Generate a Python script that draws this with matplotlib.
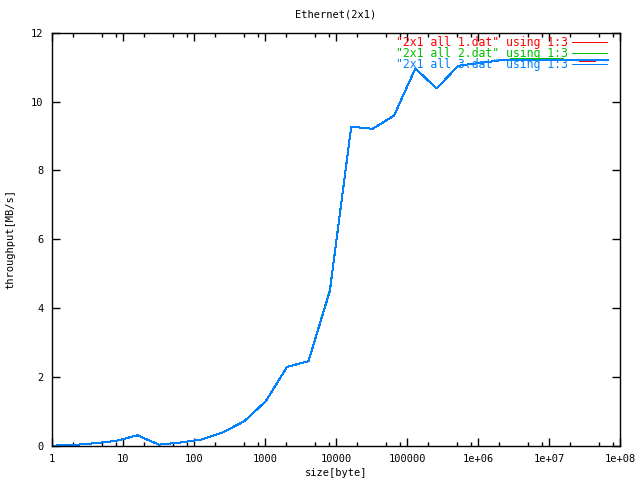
import numpy as np
import matplotlib
matplotlib.use('Agg')
import matplotlib.pyplot as plt
from matplotlib.ticker import LogLocator, FixedLocator, NullFormatter

# message sizes (bytes), powers of two
sizes = [2 ** k for k in range(27)]

# throughput [MB/s]
run1 = [0.01, 0.03, 0.08, 0.15, 0.31, 0.04, 0.10, 0.19, 0.40, 0.72,
        1.30, 2.30, 2.46, 4.50, 9.27, 9.21, 9.59, 10.96, 10.38, 11.04,
        11.12, 11.20, 11.21, 11.21, 11.22, 11.18, 11.21]
run2 = [0.01, 0.03, 0.08, 0.15, 0.31, 0.04, 0.10, 0.19, 0.40, 0.72,
        1.30, 2.30, 2.46, 4.52, 9.27, 9.21, 9.59, 10.96, 10.38, 11.04,
        11.12, 11.20, 11.25, 11.25, 11.22, 11.21, 11.21]
run3 = [0.01, 0.03, 0.08, 0.15, 0.31, 0.04, 0.10, 0.19, 0.40, 0.72,
        1.30, 2.30, 2.46, 4.50, 9.27, 9.21, 9.59, 10.96, 10.38, 11.04,
        11.12, 11.20, 11.21, 11.21, 11.22, 11.21, 11.21]

labels = ['"2x1 all 1.dat" using 1:3',
          '"2x1 all 2.dat" using 1:3',
          '"2x1 all 3.dat" using 1:3']
colors = ['#ff0000', '#00c000', '#0080ff']

font = 'DejaVu Sans Mono'
fs = 7.5

fig = plt.figure(figsize=(6.4, 4.8), dpi=100)
ax = fig.add_axes([52 / 640, 34 / 480, 568 / 640, 413.3 / 480])

for y, lab, c in zip([run1, run2, run3], labels, colors):
    ax.plot(sizes, y, color=c, lw=0.72, label=lab, antialiased=False)

ax.set_xscale('log')
ax.set_xlim(1, 1e8)
ax.set_ylim(0, 12)
ax.set_yticks(range(0, 13, 2))

majors = [10.0 ** k for k in range(9)]
ax.xaxis.set_major_locator(FixedLocator(majors))
ax.set_xticklabels(['1', '10', '100', '1000', '10000', '100000',
                    '1e+06', '1e+07', '1e+08'])
ax.xaxis.set_minor_locator(LogLocator(base=10, subs=(2.0, 5.0, 8.0)))
ax.xaxis.set_minor_formatter(NullFormatter())

ax.tick_params(which='both', direction='in', top=True, right=True,
               width=1, labelsize=fs, pad=6)
ax.tick_params(which='major', length=6)
ax.tick_params(which='minor', length=3)
for lbl in ax.get_xticklabels() + ax.get_yticklabels():
    lbl.set_family(font)
for s in ax.spines.values():
    s.set_linewidth(1)

ax.set_title('Ethernet(2x1)', fontsize=fs, family=font, pad=11)
ax.set_xlabel('size[byte]', fontsize=fs, family=font, labelpad=3)
ax.set_ylabel('throughput[MB/s]', fontsize=fs, family=font, labelpad=11)

leg = ax.legend(loc='upper right', frameon=False, markerfirst=False,
                prop={'family': font, 'size': 8.3}, labelcolor='linecolor',
                handlelength=3.0, handletextpad=0.4, labelspacing=-0.15,
                borderaxespad=0, borderpad=0,
                bbox_to_anchor=(1 - 13 / 568, 1 - 3 / 413))
for h in leg.get_lines():
    h.set_antialiased(False)

fig.savefig('out.png', dpi=100)
